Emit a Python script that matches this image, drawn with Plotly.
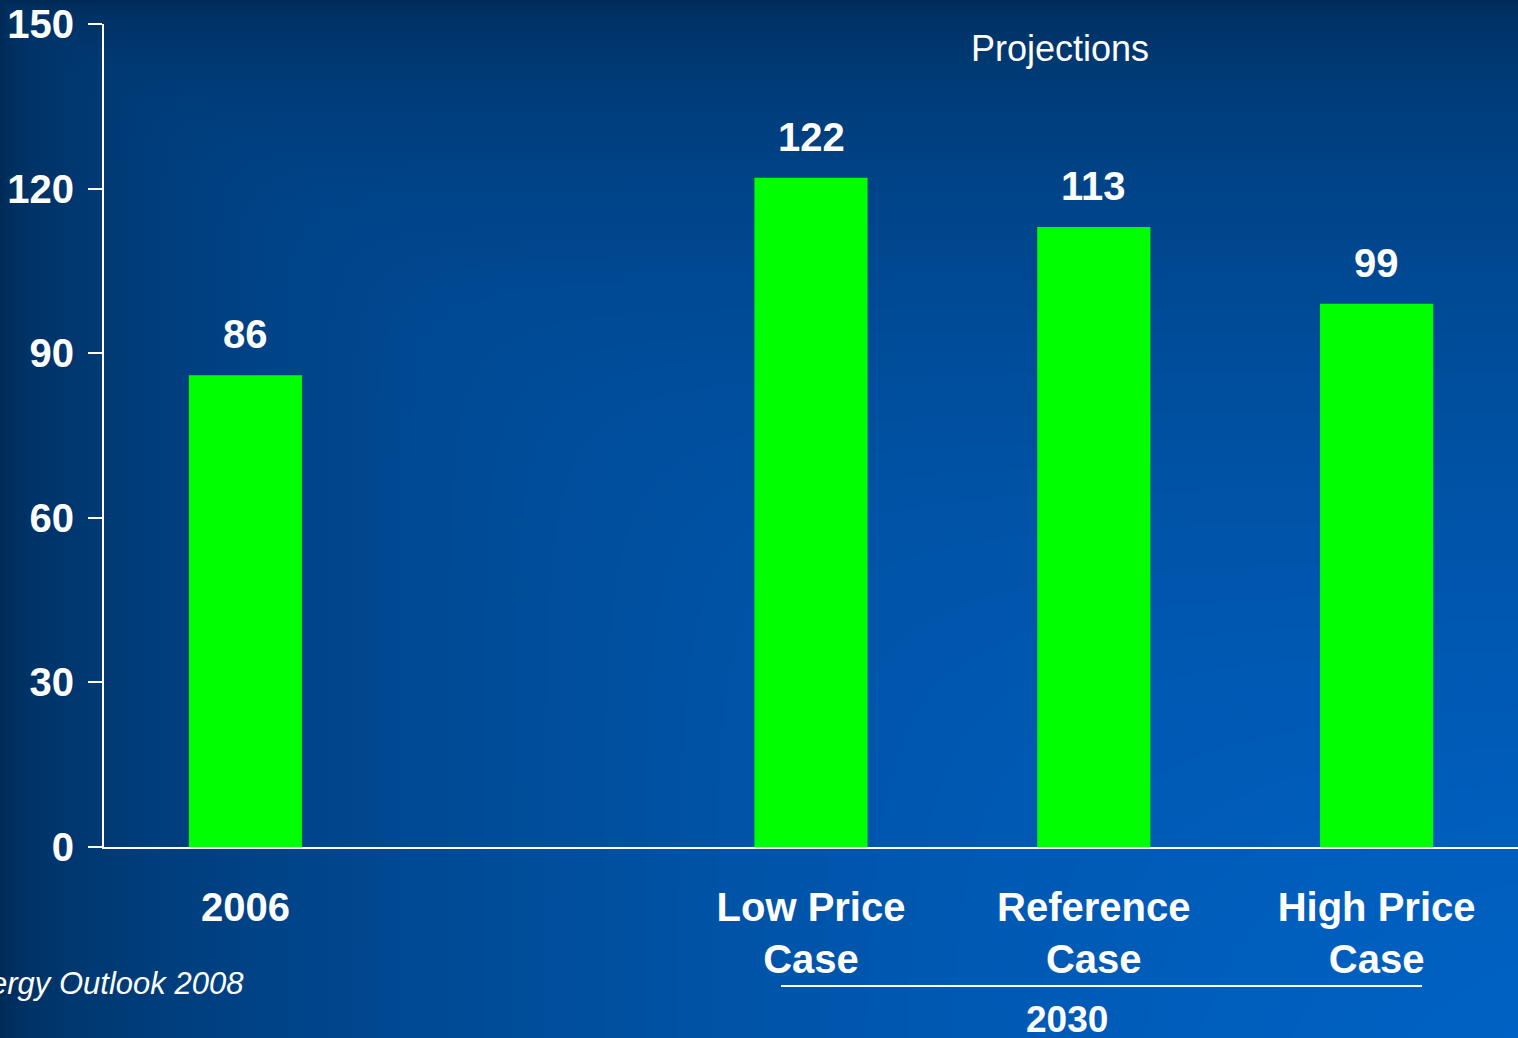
import base64
import struct
import zlib

import numpy as np
import plotly.graph_objects as go

# ---- data -------------------------------------------------------------
categories = ["2006", "Low Price<br>Case", "Reference<br>Case", "High Price<br>Case"]
positions = [0, 2, 3, 4]          # slot 1 left empty between history and projections
values = [86, 122, 113, 99]
y_ticks = [0, 30, 60, 90, 120, 150]

W, H = 1518, 1038
M_L, M_R, M_T, M_B = 104, 0, 24, 191
PW, PH = W - M_L - M_R, H - M_T - M_B


# ---- slide-style blue background, generated as a small PNG -------------
def make_png(rgb):
    h, w, _ = rgb.shape
    raw = b"".join(b"\x00" + rgb[r].tobytes() for r in range(h))

    def chunk(tag, data):
        c = struct.pack(">I", len(data)) + tag + data
        return c + struct.pack(">I", zlib.crc32(tag + data) & 0xFFFFFFFF)

    return (b"\x89PNG\r\n\x1a\n"
            + chunk(b"IHDR", struct.pack(">IIBBBBB", w, h, 8, 2, 0, 0, 0))
            + chunk(b"IDAT", zlib.compress(raw, 9))
            + chunk(b"IEND", b""))


gw, gh = 380, 260
u = np.linspace(0, 1, gw)[None, :]
v = np.linspace(0, 1, gh)[:, None]
p = 6.0
with np.errstate(divide="ignore"):
    soft_min = (u ** -p + v ** -p + 1e-9) ** (-1.0 / p)
soft_min = np.nan_to_num(soft_min, nan=0.0)
b = np.clip(np.sqrt(np.clip(soft_min, 0, 1)) * 0.97 + 0.02, 0, 1)
dark = np.array([0, 42, 85], float)
bright = np.array([0, 102, 204], float)
img = dark[None, None, :] + b[:, :, None] * (bright - dark)[None, None, :]
img = np.clip(img, 0, 255).astype(np.uint8)
bg_uri = "data:image/png;base64," + base64.b64encode(make_png(img)).decode()

# ---- figure ------------------------------------------------------------
fig = go.Figure()
fig.add_trace(go.Bar(
    x=positions,
    y=values,
    width=0.4,
    marker=dict(color="#00ff00", line=dict(width=0)),
    hoverinfo="skip",
))

bold = dict(family="Liberation Sans, Arial, sans-serif", color="white", weight="bold")

# value labels above the bars
for xp, val in zip(positions, values):
    fig.add_annotation(
        x=xp, y=val, xref="x", yref="y", text=str(val), showarrow=False,
        yanchor="bottom", yshift=17, font=dict(size=40, **bold),
    )

fig.add_annotation(
    x=(1060 - M_L) / PW, y=(H - M_B - 48) / PH, xref="paper", yref="paper",
    text="Projections", showarrow=False, xanchor="center", yanchor="middle",
    font=dict(family="Liberation Sans, Arial, sans-serif", size=36, color="white"),
)

# grouping line and year under the projection cases
fig.add_shape(
    type="line", xref="paper", yref="paper",
    x0=(781 - M_L) / PW, x1=(1422 - M_L) / PW,
    y0=(H - M_B - 986) / PH, y1=(H - M_B - 986) / PH,
    line=dict(color="white", width=2),
)
fig.add_annotation(
    x=(1067 - M_L) / PW, y=(H - M_B - 1019) / PH, xref="paper", yref="paper",
    text="2030", showarrow=False, xanchor="center", yanchor="middle",
    font=dict(size=37, **bold),
)

fig.add_annotation(
    x=(246 - M_L) / PW, y=(H - M_B - 984) / PH, xref="paper", yref="paper",
    text="Annual Energy Outlook 2008", showarrow=False,
    xanchor="right", yanchor="middle",
    font=dict(family="Liberation Sans, Arial, sans-serif", size=31,
              color="white", style="italic"),
)

fig.update_layout(
    width=W, height=H,
    margin=dict(l=M_L, r=M_R, t=M_T, b=M_B, pad=0),
    paper_bgcolor="#003070",
    plot_bgcolor="rgba(0,0,0,0)",
    showlegend=False,
    images=[dict(
        source=bg_uri, xref="paper", yref="paper",
        x=-M_L / PW, y=1 + M_T / PH, sizex=W / PW, sizey=H / PH,
        xanchor="left", yanchor="top", sizing="stretch", layer="below",
    )],
    xaxis=dict(
        range=[-0.5, 4.5], tickvals=positions, ticktext=categories,
        showline=True, linecolor="white", linewidth=2, ticks="",
        showgrid=False, zeroline=False, ticklabelstandoff=24,
        tickfont=dict(size=40, **bold), fixedrange=True,
    ),
    yaxis=dict(
        range=[0, 150], tickvals=y_ticks, showline=True, linecolor="white",
        linewidth=2, ticks="outside", ticklen=14, tickwidth=2, tickcolor="white",
        showgrid=False, zeroline=False, ticklabelstandoff=6,
        tickfont=dict(size=40, **bold), fixedrange=True,
    ),
)

fig.write_html("out.html")
